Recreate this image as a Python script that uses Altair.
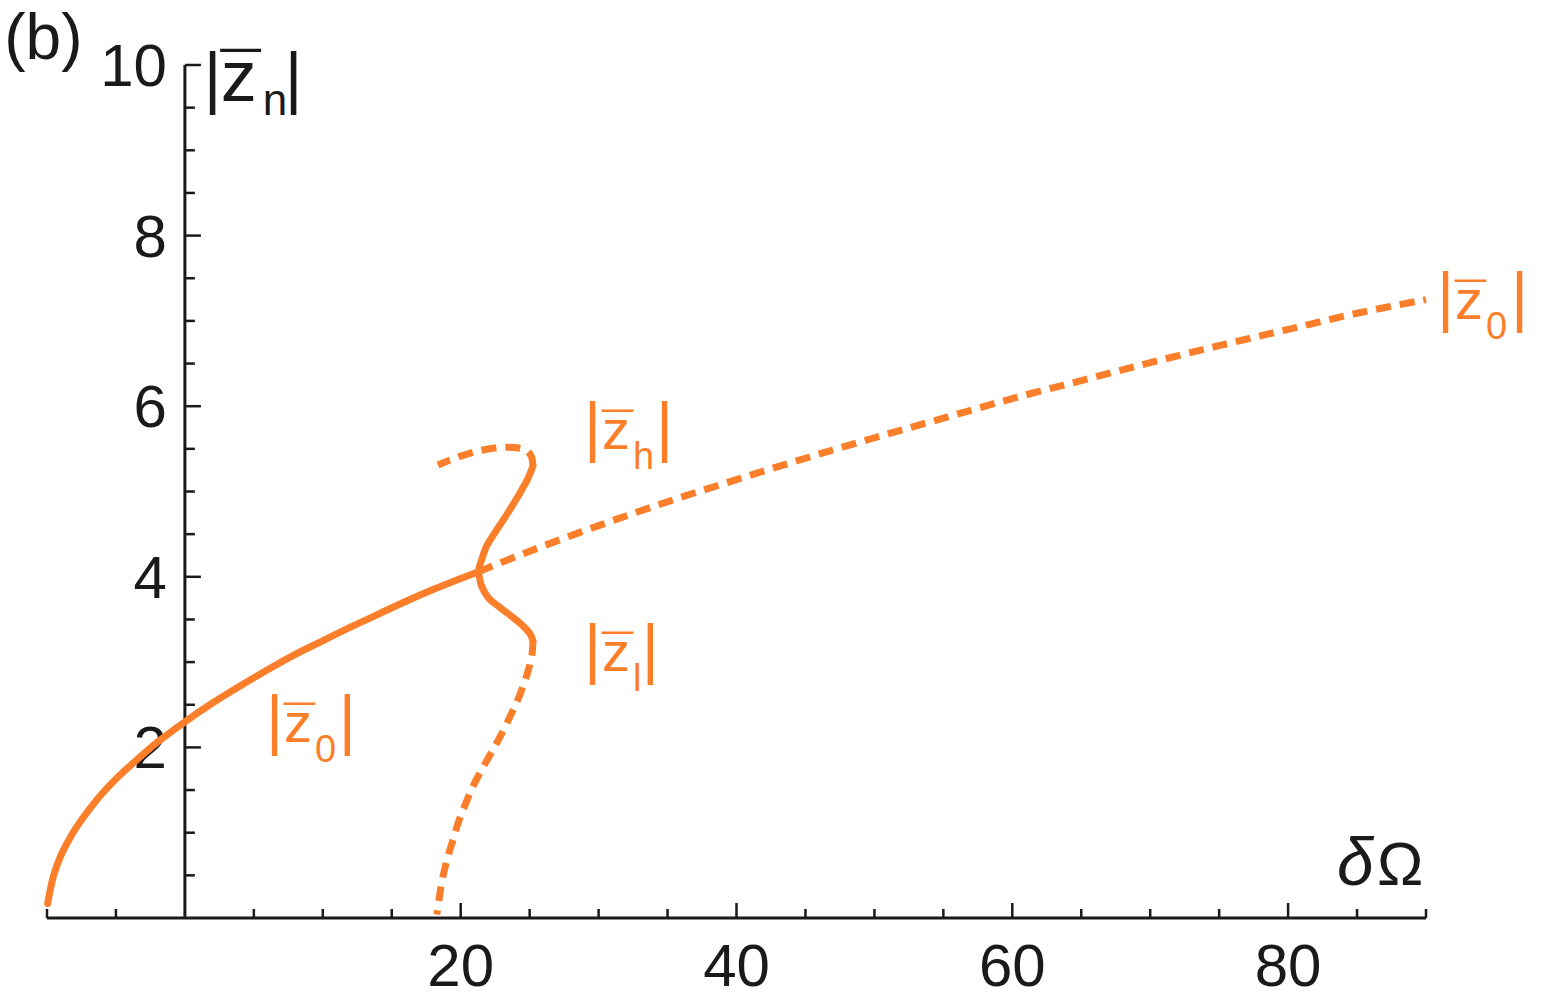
import altair as alt
import pandas as pd

ORANGE = "#FB7F2A"
INK = "#1A1A1A"
FONT = "Liberation Sans"

X_DOMAIN = [-10, 90]
Y_DOMAIN = [0, 10]

# |z0| stable branch (solid)
Z0S_X = [-9.95, -9.8, -9.5, -9.0, -8.5, -8.0, -7.0, -6.0, -5.0, -4.0, -2.0, 0.0, 2.0, 4.0, 6.0,
         8.0, 10.0, 12.0, 14.0, 16.0, 18.0, 20.0, 21.3]
Z0S_Y = [0.17, 0.30, 0.51, 0.73, 0.89, 1.03, 1.26, 1.46, 1.63, 1.78, 2.06, 2.30, 2.52, 2.72, 2.91,
         3.09, 3.25, 3.41, 3.56, 3.71, 3.85, 3.98, 4.06]
# |z0| unstable branch (dashed)
Z0U_X = [21.3, 25, 30, 35, 40, 45, 50, 55, 60, 65, 70, 75, 80, 85, 90]
Z0U_Y = [4.06, 4.30, 4.60, 4.88, 5.14, 5.39, 5.63, 5.86, 6.09, 6.30, 6.51, 6.71, 6.90, 7.09, 7.25]
# |zh| stable (solid)
ZHS_X = [21.3, 21.36, 21.52, 21.88, 22.49, 23.34, 24.18, 24.90, 25.24]
ZHS_Y = [4.06, 4.12, 4.20, 4.36, 4.52, 4.73, 4.95, 5.16, 5.30]
# |zh| unstable (dashed)
ZHU_X = [25.24, 25.12, 24.78, 24.18, 23.43, 22.49, 21.40, 20.31, 19.22, 18.35]
ZHU_Y = [5.30, 5.41, 5.48, 5.51, 5.52, 5.51, 5.48, 5.43, 5.37, 5.31]
# |zl| stable (solid)
ZLS_X = [21.3, 21.35, 21.52, 22.0, 22.85, 23.82, 24.54, 25.03, 25.24]
ZLS_Y = [4.06, 4.00, 3.89, 3.755, 3.64, 3.52, 3.42, 3.33, 3.25]
# |zl| unstable (dashed)
ZLU_X = [25.24, 25.16, 24.80, 24.22, 23.57, 22.84, 22.12, 21.46, 20.88, 20.38, 19.87, 19.43, 19.00,
         18.64, 18.42, 18.27]
ZLU_Y = [3.25, 3.08, 2.85, 2.59, 2.36, 2.12, 1.91, 1.72, 1.54, 1.35, 1.14, 0.91, 0.68, 0.43, 0.21, 0.04]

XTICK_MAJOR = [20, 40, 60, 80]
XTICK_LABELS = ["20", "40", "60", "80"]
XTICK_MINOR = [-10, -5, 5, 10, 15, 25, 30, 35, 45, 50, 55, 65, 70, 75, 85, 90]
YTICK_MAJOR = [2, 4, 6, 8, 10]
YTICK_LABELS = ["2", "4", "6", "8", "10"]
YTICK_MINOR = [0.5, 1, 1.5, 2.5, 3, 3.5, 4.5, 5, 5.5, 6.5, 7, 7.5, 8.5, 9, 9.5]

# curve labels |z̄_sub|
LABEL_X = [29.37, 29.37, 6.31, 91.23]
LABEL_Y = [5.50, 2.90, 2.06, 7.02]
LABEL_XR = [34.59, 33.57, 11.60, 96.59]
LABEL_SUB = ["h", "l", "0", "0"]

# axis titles and panel tag
YTITLE_X = [1.81]
YTITLE_Y = [9.58]
XTITLE_X = [83.76]
XTITLE_Y = [0.387]
TAG_X = [-13.1]
TAG_Y = [10.075]


def branch(xs, ys, name):
    return pd.DataFrame({"x": xs, "y": ys, "seg": name, "i": list(range(len(xs)))})


solid = pd.concat([branch(Z0S_X, Z0S_Y, "z0"), branch(ZHS_X, ZHS_Y, "zh"), branch(ZLS_X, ZLS_Y, "zl")])
dashed = pd.concat([branch(Z0U_X, Z0U_Y, "z0"), branch(ZHU_X, ZHU_Y, "zh"), branch(ZLU_X, ZLU_Y, "zl")])

xs = alt.Scale(domain=X_DOMAIN, nice=False, zero=False)
ys = alt.Scale(domain=Y_DOMAIN, nice=False, zero=False)


def ex(f):
    return alt.X(f"{f}:Q", scale=xs, axis=None)


def ey(f):
    return alt.Y(f"{f}:Q", scale=ys, axis=None)


def x0(v):
    return alt.XDatum(v, scale=xs, axis=None)


def y0(v):
    return alt.YDatum(v, scale=ys, axis=None)


layers = []

# axes lines
axes_x = pd.DataFrame({"a": [X_DOMAIN[0]], "b": [X_DOMAIN[1]], "c": [0]})
axes_y = pd.DataFrame({"a": [Y_DOMAIN[0]], "b": [Y_DOMAIN[1]], "c": [0]})
layers.append(alt.Chart(axes_x).mark_rule(color=INK, strokeWidth=3).encode(
    x=ex("a"), x2="b:Q", y=ey("c")))
layers.append(alt.Chart(axes_y).mark_rule(color=INK, strokeWidth=3).encode(
    y=ey("a"), y2="b:Q", x=ex("c")))

# ticks
xmaj = pd.DataFrame({"v": XTICK_MAJOR, "t": XTICK_LABELS})
xmin = pd.DataFrame({"v": XTICK_MINOR})
ymaj = pd.DataFrame({"v": YTICK_MAJOR, "t": YTICK_LABELS})
ymin = pd.DataFrame({"v": YTICK_MINOR})
layers.append(alt.Chart(xmaj).mark_rule(color=INK, strokeWidth=2.5, y2Offset=-15).encode(
    x=ex("v"), y=y0(0), y2=alt.Y2Datum(0)))
layers.append(alt.Chart(xmin).mark_rule(color=INK, strokeWidth=2.5, y2Offset=-9).encode(
    x=ex("v"), y=y0(0), y2=alt.Y2Datum(0)))
layers.append(alt.Chart(ymaj).mark_rule(color=INK, strokeWidth=2.5, x2Offset=16).encode(
    y=ey("v"), x=x0(0), x2=alt.X2Datum(0)))
layers.append(alt.Chart(ymin).mark_rule(color=INK, strokeWidth=2.5, x2Offset=10).encode(
    y=ey("v"), x=x0(0), x2=alt.X2Datum(0)))

# tick labels
layers.append(alt.Chart(xmaj).mark_text(font=FONT, fontSize=60, color=INK, align="center",
                                        baseline="alphabetic", dy=68).encode(
    x=ex("v"), y=y0(0), text="t:N"))
layers.append(alt.Chart(ymaj).mark_text(font=FONT, fontSize=60, color=INK, align="right",
                                        baseline="alphabetic", dx=-18, dy=21).encode(
    y=ey("v"), x=x0(0), text="t:N"))

# curves
layers.append(alt.Chart(solid).mark_line(color=ORANGE, strokeWidth=7, strokeCap="round",
                                         strokeJoin="round", interpolate="catmull-rom").encode(
    x=ex("x"), y=ey("y"), detail="seg:N", order="i:Q"))
layers.append(alt.Chart(dashed).mark_line(color=ORANGE, strokeWidth=7, strokeDash=[15, 9],
                                          strokeCap="butt", interpolate="catmull-rom").encode(
    x=ex("x"), y=ey("y"), detail="seg:N", order="i:Q"))

# curve labels
lab = pd.DataFrame({"x": LABEL_X, "y": LABEL_Y, "xr": LABEL_XR, "sub": LABEL_SUB})
common = dict(font=FONT, color=ORANGE, align="left", baseline="alphabetic")
layers.append(alt.Chart(lab).mark_text(text="|", fontSize=66, dx=-6, **common).encode(
    x=ex("x"), y=ey("y")))
layers.append(alt.Chart(lab).mark_text(text="z", fontSize=56, dx=12, **common).encode(
    x=ex("x"), y=ey("y")))
layers.append(alt.Chart(lab).mark_text(text="¯", fontSize=56, dx=12, dy=3, **common).encode(
    x=ex("x"), y=ey("y")))
layers.append(alt.Chart(lab).mark_text(fontSize=38, dx=43, dy=20, **common).encode(
    x=ex("x"), y=ey("y"), text="sub:N"))
layers.append(alt.Chart(lab).mark_text(text="|", fontSize=66, dx=-6, **common).encode(
    x=ex("xr"), y=ey("y")))

# y-axis title |z̄n|
yt = pd.DataFrame({"x": YTITLE_X, "y": YTITLE_Y})
tcommon = dict(font=FONT, color=INK, align="left", baseline="alphabetic")
layers.append(alt.Chart(yt).mark_text(text="|", fontSize=68, dx=-6, **tcommon).encode(x=ex("x"), y=ey("y")))
layers.append(alt.Chart(yt).mark_text(text="z", fontSize=72, dx=11, **tcommon).encode(x=ex("x"), y=ey("y")))
layers.append(alt.Chart(yt).mark_text(text="¯", fontSize=72, dx=11, dy=2, **tcommon).encode(x=ex("x"), y=ey("y")))
layers.append(alt.Chart(yt).mark_text(text="n", fontSize=44, dx=53, dy=14, **tcommon).encode(x=ex("x"), y=ey("y")))
layers.append(alt.Chart(yt).mark_text(text="|", fontSize=68, dx=75, **tcommon).encode(x=ex("x"), y=ey("y")))

# x-axis title δΩ
xt = pd.DataFrame({"x": XTITLE_X, "y": XTITLE_Y})
layers.append(alt.Chart(xt).mark_text(text="δ", fontSize=66, fontStyle="italic", dx=-3, **tcommon).encode(
    x=ex("x"), y=ey("y")))
layers.append(alt.Chart(xt).mark_text(text="Ω", fontSize=62, dx=37, **tcommon).encode(
    x=ex("x"), y=ey("y")))

# panel tag
tg = pd.DataFrame({"x": TAG_X, "y": TAG_Y})
layers.append(alt.Chart(tg).mark_text(text="(b)", fontSize=64, **tcommon).encode(x=ex("x"), y=ey("y")))

chart = alt.layer(*layers).properties(
    width=1379,
    height=853,
    padding={"left": 39, "top": 57, "right": 110, "bottom": 81},
    autosize=alt.AutoSizeParams(type="none"),
).configure_view(stroke=None)

chart.save("out.html", embed_options={"renderer": "svg", "actions": False})
